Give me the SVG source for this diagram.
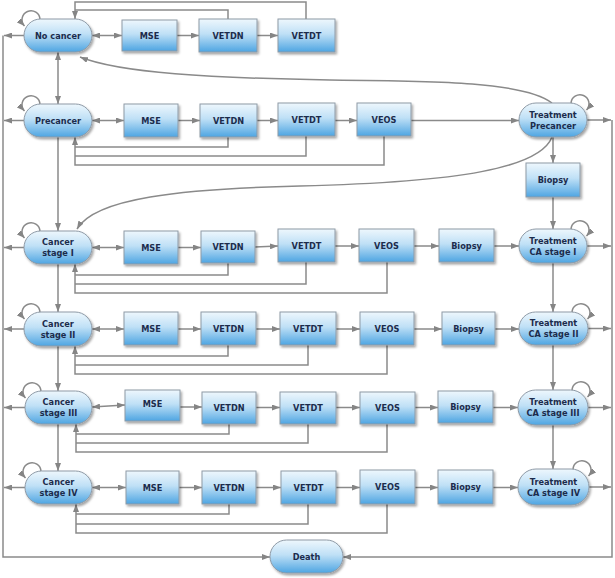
<svg xmlns="http://www.w3.org/2000/svg" width="615" height="578" viewBox="0 0 615 578">
<defs>
<linearGradient id="g" x1="0" y1="0" x2="0" y2="1">
<stop offset="0" stop-color="#eef7fd"/>
<stop offset="0.45" stop-color="#bfe0f6"/>
<stop offset="1" stop-color="#4ea5e2"/>
</linearGradient>
<filter id="sh" x="-10%" y="-10%" width="130%" height="140%">
<feDropShadow dx="1.5" dy="2" stdDeviation="1.2" flood-color="#000" flood-opacity="0.35"/>
</filter>
<marker id="a" markerUnits="userSpaceOnUse" markerWidth="8" markerHeight="6" viewBox="0 0 8 6" refX="8" refY="3" orient="auto-start-reverse">
<path d="M0,0 L8,3 L0,6 z" fill="#858585"/>
</marker>
</defs>
<style>
.node rect{fill:url(#g);stroke:#8e9aa6;stroke-width:1;filter:url(#sh)}
.node text{font-family:"DejaVu Sans",Verdana,sans-serif;font-weight:bold;font-size:8.2px;fill:#1c2c4c;text-anchor:middle}
#connectors path,#connectors line{fill:none;stroke:#8a8a8a;stroke-width:1.5}
.e{marker-end:url(#a)}
.b{marker-start:url(#a);marker-end:url(#a)}
</style>
<rect width="615" height="578" fill="#fff"/>
<g id="connectors">
<!-- left and right death rails -->
<path d="M3,35.5 V557 H270" class="e"/>
<path d="M612,120 V557 H343" class="e"/>
<!-- left exits -->
<line x1="24" y1="35.5" x2="4" y2="35.5" class="e"/>
<line x1="24" y1="120.5" x2="4" y2="120.5" class="e"/>
<line x1="24" y1="247.5" x2="4" y2="247.5" class="e"/>
<line x1="24" y1="329" x2="4" y2="329" class="e"/>
<line x1="25" y1="407.5" x2="4" y2="407.5" class="e"/>
<line x1="25" y1="487.5" x2="4" y2="487.5" class="e"/>
<!-- right exits -->
<line x1="587" y1="120" x2="611" y2="120" class="e"/>
<line x1="587" y1="246" x2="611" y2="246" class="e"/>
<line x1="588" y1="328.5" x2="611" y2="328.5" class="e"/>
<line x1="588" y1="407.5" x2="611" y2="407.5" class="e"/>
<line x1="589" y1="487" x2="611" y2="487" class="e"/>
<!-- left verticals -->
<line x1="58" y1="52" x2="58" y2="104" class="b"/>
<line x1="58" y1="137" x2="58" y2="231" class="e"/>
<line x1="58" y1="264" x2="58" y2="312" class="e"/>
<line x1="58" y1="346" x2="58" y2="391" class="e"/>
<line x1="58" y1="424" x2="58" y2="471" class="e"/>
<!-- right verticals -->
<line x1="553" y1="137" x2="553" y2="163" class="e"/>
<line x1="553" y1="197" x2="553" y2="229" class="e"/>
<line x1="553" y1="263" x2="553" y2="312" class="e"/>
<line x1="553" y1="345" x2="553" y2="390" class="e"/>
<line x1="553" y1="425" x2="553" y2="469" class="e"/>
<!-- self loops left -->
<path d="M40,19.5 A9,9 0 1 0 24.5,26" class="e"/>
<path d="M40,104.5 A9,9 0 1 0 24.5,111" class="e"/>
<path d="M40,231.5 A9,9 0 1 0 24.5,238" class="e"/>
<path d="M40,312.5 A9,9 0 1 0 24.5,319" class="e"/>
<path d="M41,391.5 A9,9 0 1 0 25.5,398" class="e"/>
<path d="M41,471.5 A9,9 0 1 0 25.5,478" class="e"/>
<!-- self loops right -->
<path d="M571,103.5 A9,9 0 1 1 586.5,110" class="e"/>
<path d="M571,229.5 A9,9 0 1 1 586.5,236" class="e"/>
<path d="M572,312.5 A9,9 0 1 1 587.5,319" class="e"/>
<path d="M572,390.5 A9,9 0 1 1 587.5,397" class="e"/>
<path d="M573,469.5 A9,9 0 1 1 588.5,476" class="e"/>
<!-- row 1 -->
<line x1="92" y1="35.5" x2="122" y2="35.5" class="b"/>
<line x1="177" y1="35.5" x2="199" y2="35.5" class="e"/>
<line x1="257" y1="35.5" x2="278" y2="35.5" class="e"/>
<path d="M228,19 V10 H75"/>
<path d="M306,19 V2 H75 V19" class="e"/>
<!-- row 2 -->
<line x1="92" y1="120.5" x2="124" y2="120.5" class="b"/>
<line x1="178" y1="120.5" x2="200" y2="120.5" class="e"/>
<line x1="257" y1="120.5" x2="278" y2="120.5" class="e"/>
<line x1="335" y1="120.5" x2="357" y2="120.5" class="e"/>
<line x1="411" y1="120.5" x2="519" y2="120.5" class="e"/>
<path d="M228,137 V147 H75"/>
<path d="M306,136 V156 H75"/>
<path d="M384,136 V165 H75 V137" class="e"/>
<!-- row 3 -->
<line x1="92" y1="247.5" x2="124" y2="247.5" class="b"/>
<line x1="178" y1="247.5" x2="201" y2="247.5" class="e"/>
<line x1="255" y1="247" x2="278" y2="246" class="e"/>
<line x1="335" y1="246" x2="359" y2="246" class="e"/>
<line x1="414" y1="246" x2="439" y2="246" class="e"/>
<line x1="494" y1="246" x2="519" y2="246" class="e"/>
<path d="M228,263 V275 H75"/>
<path d="M306,262 V284 H75"/>
<path d="M387,262 V293 H75 V264" class="e"/>
<!-- row 4 -->
<line x1="92" y1="329" x2="124" y2="329" class="b"/>
<line x1="178" y1="329" x2="201" y2="329" class="e"/>
<line x1="256" y1="329" x2="280" y2="329" class="e"/>
<line x1="336" y1="329" x2="360" y2="329" class="e"/>
<line x1="414" y1="329" x2="442" y2="329" class="e"/>
<line x1="495" y1="329" x2="519" y2="329" class="e"/>
<path d="M228,345 V356 H75"/>
<path d="M308,345 V365 H75"/>
<path d="M387,345 V374 H75 V346" class="e"/>
<!-- row 5 -->
<line x1="92" y1="407" x2="125" y2="405" class="b"/>
<line x1="180" y1="407" x2="202" y2="407" class="e"/>
<line x1="256" y1="407.5" x2="280" y2="407.5" class="e"/>
<line x1="336" y1="407.5" x2="360" y2="407.5" class="e"/>
<line x1="415" y1="407.5" x2="438" y2="407.5" class="e"/>
<line x1="493" y1="407.5" x2="518" y2="407.5" class="e"/>
<path d="M229,424 V434 H76"/>
<path d="M308,424 V443 H76"/>
<path d="M387,424 V452 H76 V424" class="e"/>
<!-- row 6 -->
<line x1="92" y1="487.5" x2="126" y2="487.5" class="b"/>
<line x1="179" y1="487.5" x2="202" y2="487.5" class="e"/>
<line x1="256" y1="487.5" x2="281" y2="487.5" class="e"/>
<line x1="336" y1="487.5" x2="360" y2="487.5" class="e"/>
<line x1="415" y1="487.5" x2="438" y2="487.5" class="e"/>
<line x1="493" y1="487.5" x2="518" y2="487.5" class="e"/>
<path d="M229,504 V514 H76"/>
<path d="M308,504 V524 H76"/>
<path d="M387,504 V533 H76 V504" class="e"/>
<!-- curves -->
<path d="M552,103 C525,82 440,81 330,80 C210,78 120,73 80,57" class="e"/>
<path d="M552,137 C540,168 460,182 300,186 C180,189 95,198 77,229" class="e"/>
</g>
<g id="nocancer" class="node"><rect x="24" y="19" width="68" height="33" rx="16.5"/><text x="58" y="38.5">No cancer</text></g>
<g id="mse1" class="node"><rect x="122" y="20" width="55" height="31"/><text x="149.5" y="38.5">MSE</text></g>
<g id="vetdn1" class="node"><rect x="199" y="19" width="58" height="33"/><text x="228" y="38.5">VETDN</text></g>
<g id="vetdt1" class="node"><rect x="278" y="19" width="57" height="33"/><text x="306.5" y="38.5">VETDT</text></g>

<g id="precancer" class="node"><rect x="24" y="104" width="68" height="33" rx="16.5"/><text x="58" y="123.5">Precancer</text></g>
<g id="mse2" class="node"><rect x="124" y="104" width="54" height="33"/><text x="151" y="123.5">MSE</text></g>
<g id="vetdn2" class="node"><rect x="200" y="104" width="57" height="33"/><text x="228.5" y="123.5">VETDN</text></g>
<g id="vetdt2" class="node"><rect x="278" y="103" width="57" height="33"/><text x="306.5" y="122.5">VETDT</text></g>
<g id="veos2" class="node"><rect x="357" y="103" width="54" height="33"/><text x="384" y="122.5">VEOS</text></g>
<g id="treatprecancer" class="node"><rect x="519" y="103" width="68" height="34" rx="17"/><text x="553" y="118">Treatment</text><text x="553" y="129">Precancer</text></g>
<g id="biopsy0" class="node"><rect x="526" y="163" width="54" height="34"/><text x="553" y="183">Biopsy</text></g>

<g id="cancer1" class="node"><rect x="24" y="231" width="68" height="33" rx="16.5"/><text x="58" y="245">Cancer</text><text x="58" y="256">stage I</text></g>
<g id="mse3" class="node"><rect x="124" y="231" width="54" height="33"/><text x="151" y="250.5">MSE</text></g>
<g id="vetdn3" class="node"><rect x="201" y="231" width="54" height="32"/><text x="228" y="250">VETDN</text></g>
<g id="vetdt3" class="node"><rect x="278" y="229" width="57" height="33"/><text x="306.5" y="248.5">VETDT</text></g>
<g id="veos3" class="node"><rect x="359" y="229" width="55" height="33"/><text x="386.5" y="248.5">VEOS</text></g>
<g id="biopsy3" class="node"><rect x="439" y="229" width="55" height="33"/><text x="466.5" y="248.5">Biopsy</text></g>
<g id="treatca1" class="node"><rect x="519" y="229" width="68" height="34" rx="17"/><text x="553" y="243.5">Treatment</text><text x="553" y="254.5">CA stage I</text></g>

<g id="cancer2" class="node"><rect x="24" y="312" width="68" height="34" rx="17"/><text x="58" y="326.5">Cancer</text><text x="58" y="337.5">stage II</text></g>
<g id="mse4" class="node"><rect x="124" y="312" width="54" height="33"/><text x="151" y="331.5">MSE</text></g>
<g id="vetdn4" class="node"><rect x="201" y="312" width="55" height="33"/><text x="228.5" y="331.5">VETDN</text></g>
<g id="vetdt4" class="node"><rect x="280" y="312" width="56" height="33"/><text x="308" y="331.5">VETDT</text></g>
<g id="veos4" class="node"><rect x="360" y="312" width="54" height="33"/><text x="387" y="331.5">VEOS</text></g>
<g id="biopsy4" class="node"><rect x="442" y="312" width="53" height="33"/><text x="468.5" y="331.5">Biopsy</text></g>
<g id="treatca2" class="node"><rect x="519" y="312" width="69" height="33" rx="16.5"/><text x="553.5" y="326">Treatment</text><text x="553.5" y="337">CA stage II</text></g>

<g id="cancer3" class="node"><rect x="25" y="391" width="67" height="33" rx="16.5"/><text x="58.5" y="405">Cancer</text><text x="58.5" y="416">stage III</text></g>
<g id="mse5" class="node"><rect x="125" y="390" width="55" height="31"/><text x="152.5" y="407">MSE</text></g>
<g id="vetdn5" class="node"><rect x="202" y="392" width="54" height="32"/><text x="229" y="411">VETDN</text></g>
<g id="vetdt5" class="node"><rect x="280" y="392" width="56" height="32"/><text x="308" y="411">VETDT</text></g>
<g id="veos5" class="node"><rect x="360" y="392" width="55" height="32"/><text x="387.5" y="411">VEOS</text></g>
<g id="biopsy5" class="node"><rect x="438" y="391" width="55" height="32"/><text x="465.5" y="410">Biopsy</text></g>
<g id="treatca3" class="node"><rect x="518" y="390" width="70" height="35" rx="17.5"/><text x="553" y="405">Treatment</text><text x="553" y="416">CA stage III</text></g>

<g id="cancer4" class="node"><rect x="25" y="471" width="67" height="33" rx="16.5"/><text x="58.5" y="485">Cancer</text><text x="58.5" y="496">stage IV</text></g>
<g id="mse6" class="node"><rect x="126" y="471" width="53" height="33"/><text x="152.5" y="490.5">MSE</text></g>
<g id="vetdn6" class="node"><rect x="202" y="471" width="54" height="33"/><text x="229" y="490.5">VETDN</text></g>
<g id="vetdt6" class="node"><rect x="281" y="471" width="55" height="33"/><text x="308.5" y="490.5">VETDT</text></g>
<g id="veos6" class="node"><rect x="360" y="470" width="55" height="34"/><text x="387.5" y="490">VEOS</text></g>
<g id="biopsy6" class="node"><rect x="438" y="470" width="55" height="34"/><text x="465.5" y="490">Biopsy</text></g>
<g id="treatca4" class="node"><rect x="518" y="469" width="71" height="36" rx="18"/><text x="553.5" y="484.5">Treatment</text><text x="553.5" y="495.5">CA stage IV</text></g>

<g id="death" class="node"><rect x="270" y="540" width="73" height="33" rx="16.5"/><text x="306.5" y="559.5">Death</text></g>
</svg>
